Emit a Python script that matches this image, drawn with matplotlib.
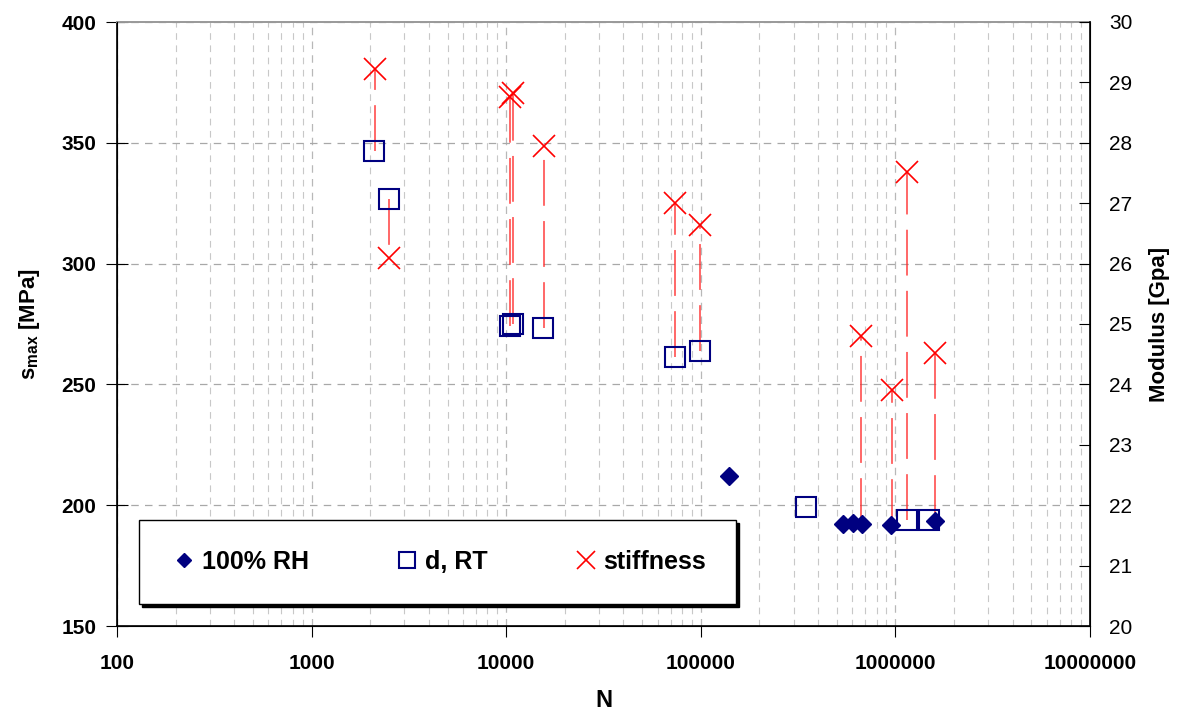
import numpy as np
import matplotlib
matplotlib.use("Agg")
import matplotlib.pyplot as plt
from matplotlib.ticker import LogLocator, NullFormatter

plt.rcParams['font.family'] = ['Liberation Sans', 'DejaVu Sans']
plt.rcParams['mathtext.fontset'] = 'custom'
plt.rcParams['mathtext.bf'] = 'Liberation Sans:bold'
plt.rcParams['mathtext.rm'] = 'Liberation Sans'

# 100% RH (diamonds)
rh_N = [139600, 538000, 605000, 673000, 948000, 1596000]
rh_S = [212.1, 192.2, 192.6, 192.2, 191.8, 193.4]

# d, RT (squares)
rt_N = [2093, 2499, 10460, 10840, 15450, 73650, 99100, 347500, 1148000, 1489000]
rt_S = [346.6, 326.9, 274.2, 275.0, 273.2, 261.5, 264.0, 199.2, 193.9, 193.9]

# stiffness (crosses, right axis) and the stress of the marker each one is tied to
st_N = [2118, 2499, 10460, 10840, 15640, 73650, 99100, 665000, 961000, 1148000, 1596000]
st_E = [29.23, 26.09, 28.76, 28.82, 27.94, 27.0, 26.64, 24.80, 23.91, 27.52, 24.52]
link_S = [346.6, 326.9, 274.2, 275.0, 273.2, 261.5, 264.0, 192.2, 191.8, 193.9, 193.4]

navy = '#000080'

fig = plt.figure(figsize=(11.85, 7.15), dpi=100)
ax = fig.add_axes([117/1185, 1-626/715, (1090-117)/1185, (626-22)/715])
ax2 = ax.twinx()

ax.set_xscale('log')
ax.set_xlim(100, 1e7)
ax.set_ylim(150, 400)
ax2.set_ylim(20, 30)

# grid
ax.xaxis.set_major_locator(LogLocator(base=10))
ax.xaxis.set_minor_locator(LogLocator(base=10, subs=np.arange(2, 10)))
ax.xaxis.set_minor_formatter(NullFormatter())
ax.set_xticks([1e2, 1e3, 1e4, 1e5, 1e6, 1e7])
ax.set_xticklabels(['100', '1000', '10000', '100000', '1000000', '10000000'])
ax.grid(True, which='major', axis='x', color='#b8b8b8', linestyle=(0, (6, 5)), linewidth=0.9)
ax.grid(True, which='minor', axis='x', color='#c8c8c8', linestyle=(0, (6, 5)), linewidth=0.8)
ax.grid(True, which='major', axis='y', color='#a8a8a8', linestyle=(0, (6, 5)), linewidth=0.9)
ax.set_axisbelow(True)

# connector lines: from the square/diamond up or down to the cross
def e_to_s(e):
    lo, hi = ax.get_ylim()
    lo2, hi2 = ax2.get_ylim()
    return lo + (e - lo2) * (hi - lo) / (hi2 - lo2)

for n, e, s in zip(st_N, st_E, link_S):
    ax.plot([n, n], [s, e_to_s(e)], color='#ff2a2a', alpha=0.9, linewidth=1.1,
            linestyle=(0, (30, 10)), zorder=2)

ax.plot(rh_N, rh_S, linestyle='none', marker='D', markersize=9, color=navy,
        label='100% RH', zorder=4)
ax.plot(rt_N, rt_S, linestyle='none', marker='s', markersize=15,
        markerfacecolor='none', markeredgecolor=navy, markeredgewidth=1.5,
        label='d, RT', zorder=4)
ax2.plot(st_N, st_E, linestyle='none', marker='x', markersize=16, color='red',
         markeredgewidth=1.2, label='stiffness', zorder=5)

# axes styling
ax.set_yticks([150, 200, 250, 300, 350, 400])
ax2.set_yticks(range(20, 31))
for lab in ax.get_yticklabels() + ax.get_xticklabels():
    lab.set_fontweight('bold')
ax.tick_params(axis='y', which='major', direction='inout', length=16, labelsize=15, pad=7)
ax.tick_params(axis='x', which='major', direction='out', length=8, labelsize=15, pad=12)
ax.tick_params(axis='x', which='minor', length=0)
ax2.tick_params(axis='y', direction='in', length=8, labelsize=15, pad=14)

ax.spines['top'].set_color('#999999')
ax.spines['top'].set_linewidth(1.4)
ax2.spines['top'].set_visible(False)
for sp in ['left', 'bottom']:
    ax.spines[sp].set_linewidth(1.2)
ax2.spines['right'].set_linewidth(1.2)

ax.set_xlabel('N', fontsize=17, fontweight='bold', labelpad=12)
ax.set_ylabel(r'$\mathbf{s_{max}}$ [MPa]', fontsize=16, fontweight='bold', labelpad=14)
ax2.set_ylabel('Modulus [Gpa]', fontsize=16, fontweight='bold', labelpad=12)

# legend
h1, l1 = ax.get_legend_handles_labels()
h2, l2 = ax2.get_legend_handles_labels()
leg = ax2.legend(h1 + h2, l1 + l2, loc='lower left',
                 bbox_to_anchor=(22/973, 22/604, 597/973, 90/604),
                 mode='expand', ncol=3, fancybox=False,
                 shadow={'color': 'black', 'alpha': 1},
                 framealpha=1, edgecolor='black', prop={'weight': 'bold', 'size': 18},
                 borderaxespad=0, handletextpad=0.1, handlelength=1.2, borderpad=1.2,
                 markerscale=0.8)
leg.get_frame().set_linewidth(1.0)

fig.savefig('out.png', dpi=100)
